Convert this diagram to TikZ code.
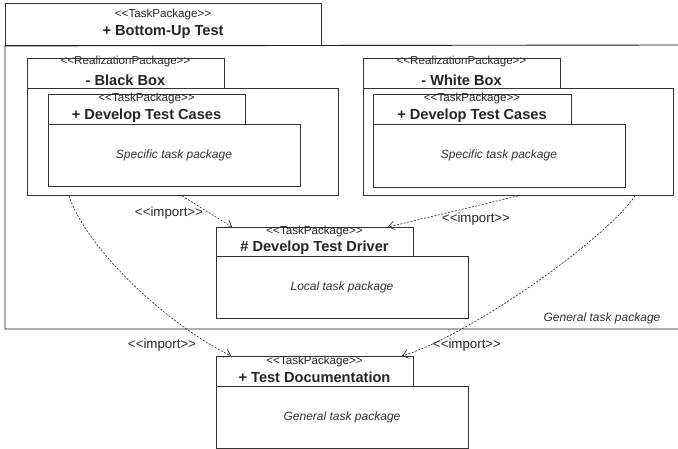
\documentclass[tikz,border=0pt]{standalone}
\usepackage{fontspec}
% plain family, so that << and >> stay as typed
\newfontfamily\umlfont{Liberation Sans}
\usetikzlibrary{arrows.meta}
\begin{document}
\begin{tikzpicture}[x=1pt,y=-1pt,
  box/.style={draw=black!80,line width=0.9pt,fill=white,inner sep=0pt,anchor=north west},
  stereo/.style={font=\umlfont\fontsize{11.6}{12}\selectfont,inner sep=0pt,text=black!85},
  title/.style={font=\umlfont\fontsize{14.6}{15}\selectfont\bfseries,inner sep=0pt,text=black!85},
  note/.style={font=\umlfont\fontsize{12}{13}\selectfont\itshape,inner sep=0pt,text=black!80},
  imp/.style={font=\umlfont\fontsize{13.3}{14}\selectfont,inner sep=0pt,text=black!85},
  dep/.style={draw=black!85,line width=0.6pt,dash pattern=on 2pt off 1.5pt,
    -{Straight Barb[length=6pt,width=9pt,line width=0.6pt]}}
]
\useasboundingbox (0,0) rectangle (678,449);

% outer package: Bottom-Up Test
\node[box,minimum width=316pt,minimum height=42pt] (bu) at (5,3) {};
\coordinate (buright) at (678,45);
\coordinate (bulowright) at (678,329);
\draw[black!90,line width=0.9pt] (buright) -- (bu.south west) -- (5,329) -- (bulowright);
\node[stereo] (bust) at (163,15) {<<TaskPackage>>};
\node[title] (buti) at (163,32) {+ Bottom-Up Test};
\node[note] (bunote) at (602,318) {General task package};

% realization package: Black Box
\node[box,minimum width=197pt,minimum height=30pt] (bbtab) at (27,58) {};
\node[box,minimum width=311pt,minimum height=107pt] (bbbody) at (27,88) {};
\node[stereo] (bbst) at (125.5,62) {<<RealizationPackage>>};
\node[title] (bbti) at (125.5,80) {- Black Box};
\node[box,minimum width=197pt,minimum height=30pt] (bctab) at (48,94) {};
\node[box,minimum width=252pt,minimum height=62pt] (bcbody) at (48,124) {};
\node[stereo] (bcst) at (146.5,99) {<<TaskPackage>>};
\node[title] (bcti) at (146.5,116) {+ Develop Test Cases};
\node[note] (bcnote) at (174,155) {Specific task package};

% realization package: White Box
\node[box,minimum width=197pt,minimum height=30pt] (wbtab) at (363,58) {};
\node[box,minimum width=310pt,minimum height=107pt] (wbbody) at (363,88) {};
\node[stereo] (wbst) at (461.5,62) {<<RealizationPackage>>};
\node[title] (wbti) at (461.5,80) {- White Box};
\node[box,minimum width=198pt,minimum height=30pt] (wctab) at (373,94) {};
\node[box,minimum width=252pt,minimum height=63pt] (wcbody) at (373,124) {};
\node[stereo] (wcst) at (472,99) {<<TaskPackage>>};
\node[title] (wcti) at (472,116) {+ Develop Test Cases};
\node[note] (wcnote) at (499,155) {Specific task package};

% task package: Develop Test Driver
\node[box,minimum width=197pt,minimum height=29pt] (dttab) at (216,227) {};
\node[box,minimum width=252pt,minimum height=62pt] (dtbody) at (216,256) {};
\node[stereo] (dtst) at (314.5,232) {<<TaskPackage>>};
\node[title] (dtti) at (314.5,248) {\# Develop Test Driver};
\node[note] (dtnote) at (342,287) {Local task package};

% task package: Test Documentation
\node[box,minimum width=197pt,minimum height=30pt] (tdtab) at (216,356) {};
\node[box,minimum width=252pt,minimum height=62pt] (tdbody) at (216,386) {};
\node[stereo] (tdst) at (314.5,362) {<<TaskPackage>>};
\node[title] (tdti) at (314.5,377) {+ Test Documentation};
\node[note] (tdnote) at (342,417) {General task package};

% import dependencies
\draw[dep] ([xshift=155pt]bbbody.south west) -- ([xshift=16pt]dttab.north west);
\draw[dep] ([xshift=155pt]wbbody.south west) -- ([xshift=172pt]dttab.north west);
\draw[dep] ([xshift=42pt]bbbody.south west) .. controls (85,245) and (160,320) .. ([xshift=15pt]tdtab.north west);
\draw[dep] ([xshift=272pt]wbbody.south west) .. controls (605,240) and (470,335) .. ([xshift=186pt]tdtab.north west);

\node[imp] (i1) at (169,213) {<<import>>};
\node[imp] (i2) at (476,219) {<<import>>};
\node[imp] (i3) at (162,345) {<<import>>};
\node[imp] (i4) at (467,345) {<<import>>};
\end{tikzpicture}
\end{document}
